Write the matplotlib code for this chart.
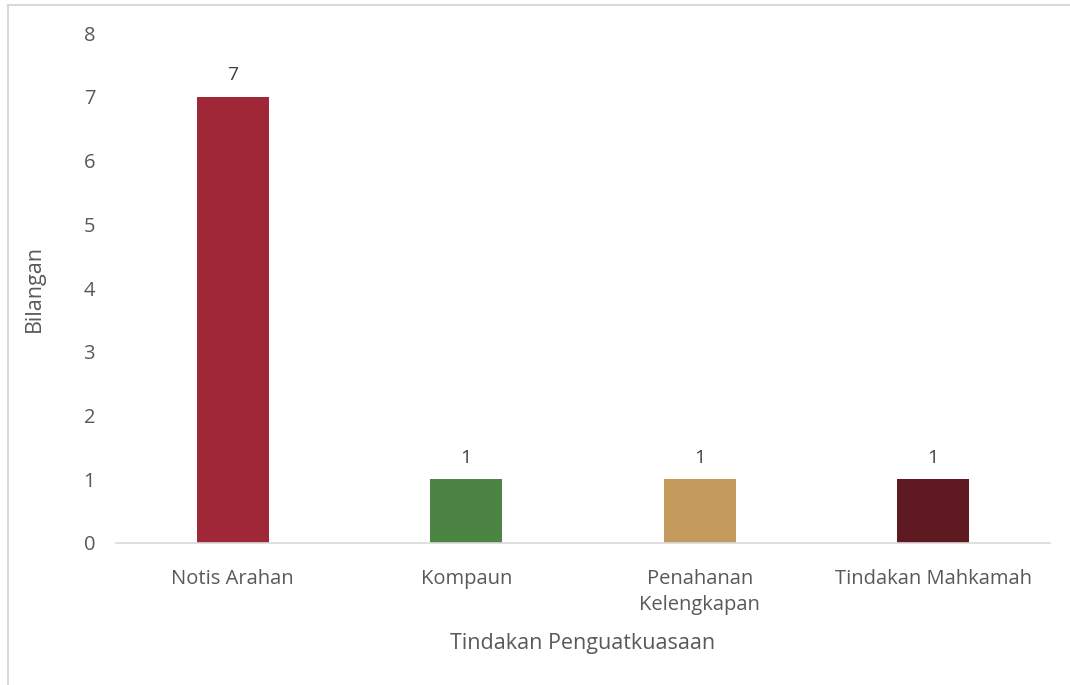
import matplotlib.pyplot as plt
from matplotlib.lines import Line2D

# chart data
categories = ['Notis Arahan', 'Kompaun', 'Penahanan\nKelengkapan', 'Tindakan Mahkamah']
values = [7, 1, 1, 1]
colors = ['#A02737', '#4C8443', '#C39A5B', '#5F1A21']
yticks = [0, 1, 2, 3, 4, 5, 6, 7, 8]

plt.rcParams['font.family'] = ['Open Sans', 'DejaVu Sans']
text_color = '#595959'

fig = plt.figure(figsize=(10.7, 6.85), dpi=100)
ax = fig.add_axes([0.1084, 0.2073, 0.8729, 0.7445])

x = list(range(len(categories)))
bars = ax.bar(x, values, width=0.31, color=colors)

# value labels above bars
for b, v in zip(bars, values):
    ax.text(b.get_x() + b.get_width() / 2, v + 0.2, str(v),
            ha='center', va='bottom', fontsize=14, color='#404040')

ax.set_xlim(-0.5, len(categories) - 0.5)
ax.set_ylim(0, 8)
ax.set_yticks(yticks)
ax.set_xticks(x)
ax.set_xticklabels(categories, fontsize=14.5, color=text_color, linespacing=1.4)
ax.tick_params(axis='y', labelsize=14.5, labelcolor=text_color, length=0, pad=15)
ax.tick_params(axis='x', length=0, pad=19)

for s in ['top', 'right', 'left']:
    ax.spines[s].set_visible(False)
ax.spines['bottom'].set_color('#D9D9D9')
ax.spines['bottom'].set_linewidth(1.2)

ax.set_xlabel('Tindakan Penguatkuasaan', fontsize=15.5, color=text_color, labelpad=13)
ax.set_ylabel('Bilangan', fontsize=15.5, color=text_color, labelpad=28)

# chart frame (cropped: only top and left edges visible)
fig.add_artist(Line2D([8 / 1070, 1], [1 - 5 / 685, 1 - 5 / 685], color='#D9D9D9', lw=1.5))
fig.add_artist(Line2D([8 / 1070, 8 / 1070], [0, 1 - 5 / 685], color='#D9D9D9', lw=1.5))

fig.savefig('out.png', dpi=100)
